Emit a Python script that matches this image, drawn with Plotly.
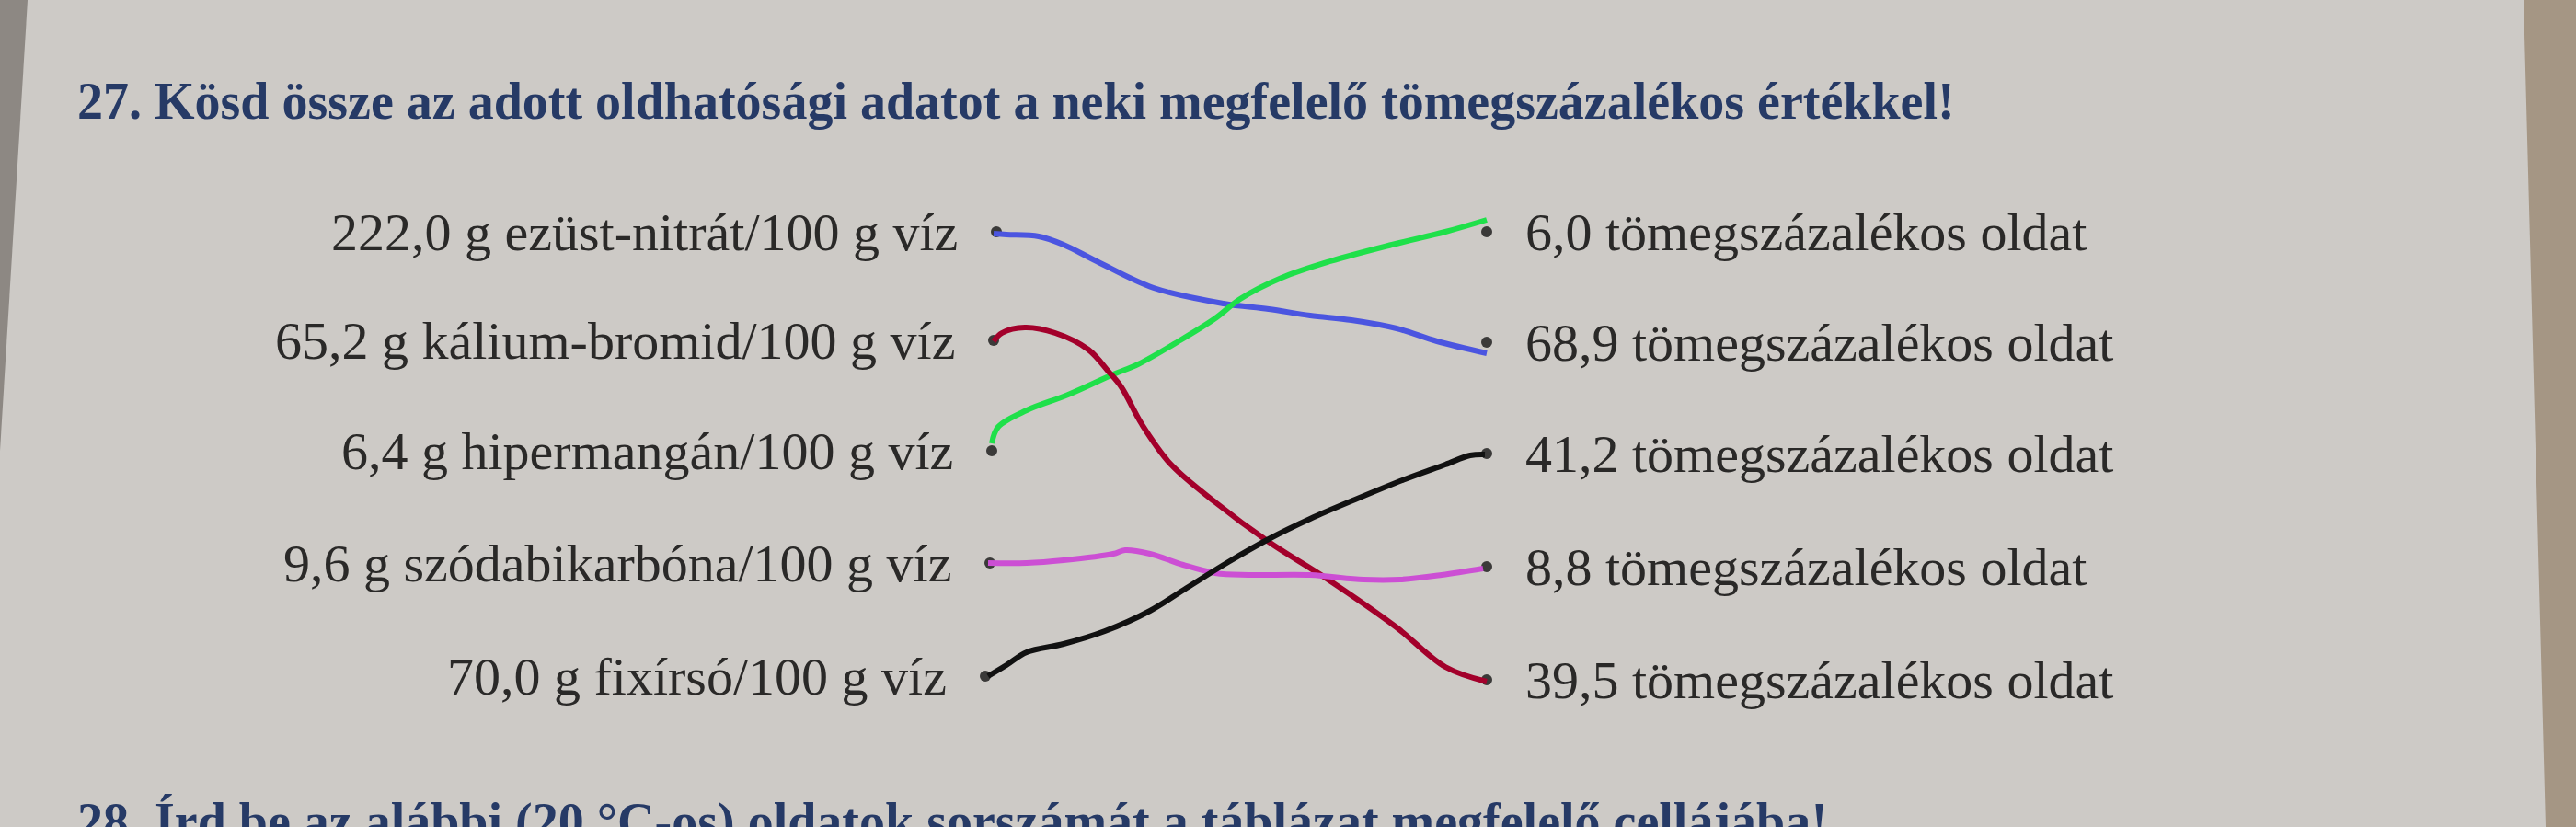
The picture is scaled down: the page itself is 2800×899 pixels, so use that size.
import plotly.graph_objects as go

# texts on the page
title = "27. Kösd össze az adott oldhatósági adatot a neki megfelelő tömegszázalékos értékkel!"
next_task = "28. Írd be az alábbi (20 °C-os) oldatok sorszámát a táblázat megfelelő cellájába!"

left_labels = ["222,0 g ezüst-nitrát/100 g víz",
               "65,2 g kálium-bromid/100 g víz",
               "6,4 g hipermangán/100 g víz",
               "9,6 g szódabikarbóna/100 g víz",
               "70,0 g fixírsó/100 g víz"]
right_labels = ["6,0 tömegszázalékos oldat",
                "68,9 tömegszázalékos oldat",
                "41,2 tömegszázalékos oldat",
                "8,8 tömegszázalékos oldat",
                "39,5 tömegszázalékos oldat"]

# dot positions (page pixels, photo is slightly skewed)
left_x = [1083, 1080, 1078, 1076, 1071]
left_y = [252, 370, 490, 612, 735]
right_x = [1616, 1616, 1616, 1616, 1616]
right_y = [252, 372, 493, 616, 739]

# hand drawn connecting lines
blue_x = [1080, 1094, 1129, 1156, 1192, 1254, 1330, 1379, 1424, 1469, 1518, 1562, 1616]
blue_y = [254, 255, 257, 266, 284, 313, 330, 336, 343, 348, 357, 371, 384]

green_x = [1078, 1085, 1116, 1161, 1210, 1237, 1281, 1321, 1348, 1393, 1446, 1513, 1571, 1616]
green_y = [482, 464, 446, 429, 407, 396, 371, 346, 325, 302, 284, 266, 252, 239]

red_x = [1080, 1089, 1114, 1147, 1183, 1205, 1219, 1241, 1272, 1321, 1379, 1442, 1518, 1571, 1616]
red_y = [371, 362, 356, 362, 380, 404, 421, 461, 504, 546, 589, 629, 682, 725, 741]

pink_x = [1074, 1116, 1156, 1210, 1223, 1250, 1286, 1321, 1357, 1424, 1482, 1522, 1567, 1612]
pink_y = [612, 612, 609, 602, 598, 602, 614, 623, 625, 625, 630, 630, 625, 618]

black_x = [1074, 1094, 1116, 1156, 1201, 1250, 1290, 1335, 1379, 1424, 1473, 1527, 1571, 1598, 1614]
black_y = [735, 723, 709, 700, 686, 664, 639, 611, 586, 564, 543, 521, 505, 495, 494]

strokes = [(blue_x, blue_y, "#4b55e0"),
           (green_x, green_y, "#1fe04a"),
           (red_x, red_y, "#a3002b"),
           (pink_x, pink_y, "#cc4fd4"),
           (black_x, black_y, "#111111")]

fig = go.Figure()

# dark edge of the page on the left and the wooden table on the right
fig.add_shape(type="path", path="M 0 0 L 30 0 L 0 490 Z",
              fillcolor="#8d8883", line_width=0, layer="below")
fig.add_shape(type="path", path="M 2743 0 L 2800 0 L 2800 899 L 2767 899 Z",
              fillcolor="#a59684", line_width=0, layer="below")

fig.add_trace(go.Scatter(x=left_x + right_x, y=left_y + right_y, mode="markers",
                         marker=dict(size=12, color="#3b3a39"), hoverinfo="skip"))

for xs, ys, col in strokes:
    fig.add_trace(go.Scatter(x=xs, y=ys, mode="lines", hoverinfo="skip",
                             line=dict(color=col, width=6, shape="spline", smoothing=1.0)))

label_font = dict(family="Liberation Serif", size=58, color="#2a2928")
for lab, x, y in zip(left_labels, left_x, left_y):
    fig.add_annotation(x=x - 40, y=y, text=lab, showarrow=False, xanchor="right",
                       yanchor="middle", font=label_font)
for lab, x, y in zip(right_labels, right_x, right_y):
    fig.add_annotation(x=x + 40, y=y, text=lab, showarrow=False, xanchor="left",
                       yanchor="middle", font=label_font)

fig.add_annotation(x=82, y=110, text="<b>" + title + "</b>", showarrow=False, xanchor="left",
                   yanchor="middle", font=dict(family="Liberation Serif", size=56, color="#263a66"))
# next exercise, only its top is in the photo
fig.add_annotation(x=82, y=893, text="<b>" + next_task + "</b>", showarrow=False, xanchor="left",
                   yanchor="middle", font=dict(family="Liberation Serif", size=56, color="#263a66"))

fig.update_xaxes(range=[0, 2800], visible=False, fixedrange=True)
fig.update_yaxes(range=[899, 0], visible=False, fixedrange=True)
fig.update_layout(width=2800, height=899, showlegend=False,
                  margin=dict(t=0, b=0, l=0, r=0),
                  paper_bgcolor="#cdcac6", plot_bgcolor="#cdcac6")

fig.write_html("out.html", config={"displayModeBar": False},
               post_script="document.body.style.margin='0';")
